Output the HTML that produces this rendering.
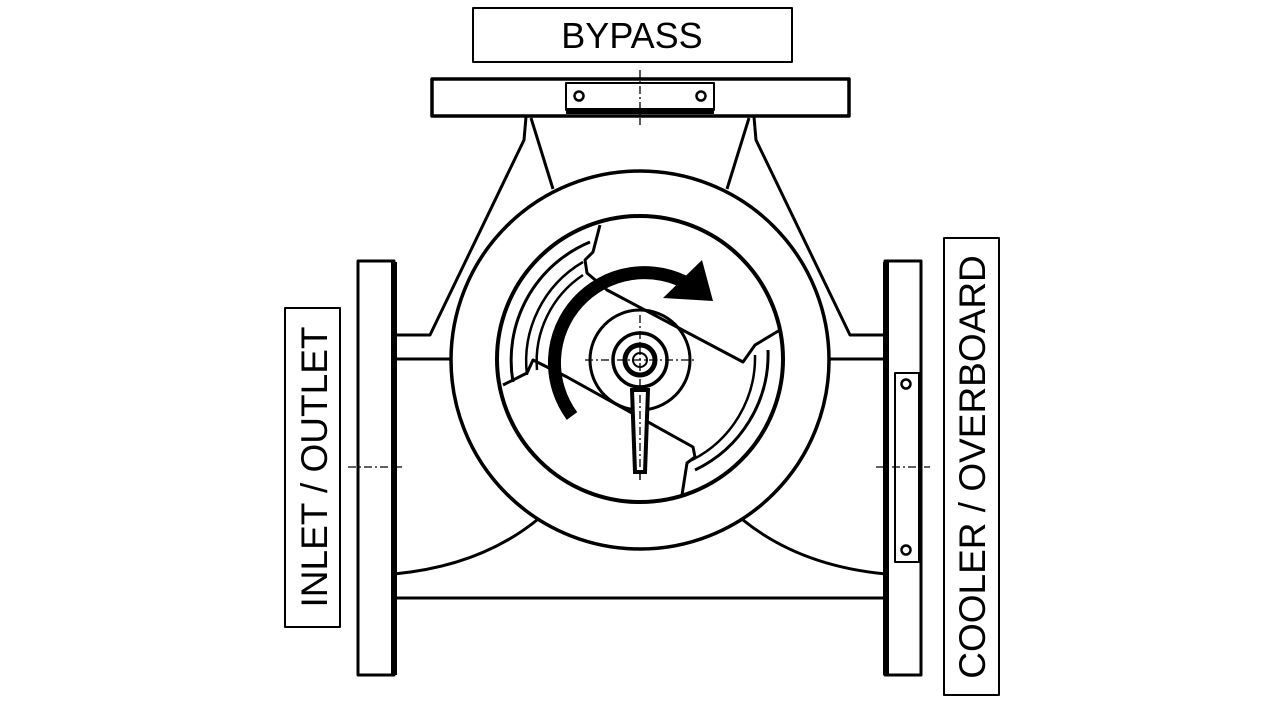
<!DOCTYPE html>
<html><head><meta charset="utf-8"><style>
html,body{margin:0;padding:0;background:#fff;}
svg{display:block}
</style></head><body>
<svg width="1280" height="720" viewBox="0 0 1280 720" xmlns="http://www.w3.org/2000/svg" font-family="Liberation Sans, Arial, sans-serif">
<rect width="1280" height="720" fill="#fff"/>
<g fill="none" stroke="#000" stroke-width="3" stroke-linejoin="round">
<rect x="473" y="8" width="319" height="54" stroke-width="2"/>
<rect x="285" y="308" width="55" height="319" stroke-width="2"/>
<rect x="944" y="238" width="55" height="457" stroke-width="2"/>
<rect x="432" y="79" width="417" height="37" stroke-width="3.5"/>
<rect x="566" y="83" width="148" height="27" stroke-width="2"/>
<line x1="566" y1="111" x2="714" y2="111" stroke-width="6"/>
<circle cx="579" cy="96" r="4.5" stroke-width="2.5"/>
<circle cx="701" cy="96" r="4.5" stroke-width="2.5"/>
<polyline points="526,117 524,140 430,335 393,335"/>
<polyline points="754,117 756,140 850,335 886,335"/>
<line x1="531" y1="118" x2="553" y2="189"/>
<line x1="749" y1="118" x2="727" y2="189"/>
<line x1="393" y1="359" x2="452" y2="359"/>
<line x1="887" y1="359" x2="828" y2="359"/>
<rect x="358" y="261" width="36" height="414"/>
<line x1="394" y1="262" x2="394" y2="675" stroke-width="6"/>
<rect x="885" y="261" width="36" height="414"/>
<line x1="886" y1="262" x2="886" y2="675" stroke-width="6"/>
<rect x="895" y="373" width="24" height="189" stroke-width="2"/>
<circle cx="906" cy="384" r="4.5" stroke-width="2.5"/>
<circle cx="906" cy="550" r="4.5" stroke-width="2.5"/>
<line x1="394" y1="598" x2="886" y2="598"/>
<path d="M394,574 Q480,566 537,520"/>
<path d="M886,574 Q800,566 743,520"/>
<circle cx="640" cy="360" r="189" stroke-width="3.5"/>
<circle cx="640" cy="359" r="143" stroke-width="4"/>
<path d="M513,382 A128,128 0 0 1 590,242" stroke-width="3"/>
<path d="M527,375 A115,115 0 0 1 583,262" stroke-width="2.5"/>
<path d="M537,370 A104,104 0 0 1 583,275" stroke-width="2.5"/>
<path d="M768,350 A128,128 0 0 1 695,470" stroke-width="3"/>
<path d="M755,355 A115,115 0 0 1 692,460" stroke-width="2.5"/>
<polyline points="600,225 593,252 585,260 587,273 607,290 743,362 755,345 780,330"/>
<polyline points="503,385 527,373 533,360 567,377 693,447 695,457 687,463 682,495"/>
<circle cx="640" cy="360" r="50" stroke-width="3"/>
<circle cx="640" cy="360" r="27" stroke-width="3.5"/>
<circle cx="640" cy="360" r="15" stroke-width="5"/>
<circle cx="640" cy="360" r="7" stroke-width="2"/>
</g>
<path d="M632,390 L648,390 L645,472 L635,472 Z" fill="#fff" stroke="#000" stroke-width="4"/>
<line x1="640" y1="470" x2="640" y2="480" stroke="#000" stroke-width="1.5"/>
<g stroke="#000" stroke-width="1.3" stroke-dasharray="8,3,2,3" fill="none">
<line x1="640" y1="70" x2="640" y2="125"/>
<line x1="585" y1="360" x2="695" y2="360"/>
<line x1="640" y1="315" x2="640" y2="470"/>
<line x1="348" y1="467" x2="402" y2="467"/>
<line x1="876" y1="467" x2="930" y2="467"/>
</g>
<path d="M572,416 A90,90 0 0 1 690,285" fill="none" stroke="#000" stroke-width="13"/>
<polygon points="702,260 713,301 663,298" fill="#000"/>
<text x="632" y="48" font-size="36" text-anchor="middle" fill="#000">BYPASS</text>
<text transform="translate(327,467) rotate(-90)" font-size="37" text-anchor="middle" fill="#000">INLET / OUTLET</text>
<text transform="translate(985,467) rotate(-90)" font-size="37" text-anchor="middle" fill="#000">COOLER / OVERBOARD</text>
</svg>
</body></html>
